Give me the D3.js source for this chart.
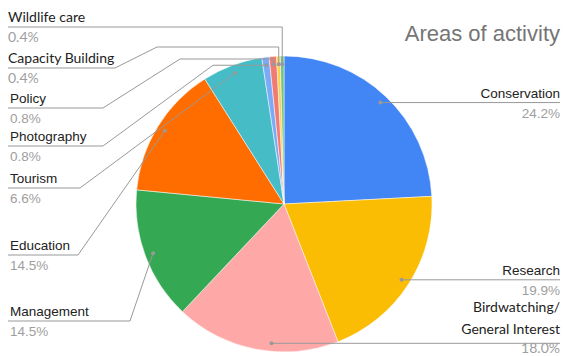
<!DOCTYPE html>
<html>
<head>
<meta charset="utf-8">
<script src="https://cdn.jsdelivr.net/npm/d3@7"></script>
<style>
  body { margin: 0; background: #fff; }
  .label { fill: #222; font-size: 13.5px; font-family: Arial, "Liberation Sans", sans-serif; }
  .pct { fill: #9e9e9e; font-size: 13.5px; font-family: Arial, "Liberation Sans", sans-serif; }
  .lato { font-family: Lato, sans-serif; font-size: 14px; }
  .leader { fill: none; stroke: #999; stroke-width: 1; }
</style>
</head>
<body>
<div id="chart"></div>
<script>
// slices, clockwise from 12 o'clock
var categories = ["Conservation", "Research", "Birdwatching/ General Interest", "Management",
                  "Education", "Tourism", "Photography", "Policy", "Capacity Building", "Wildlife care"];
var values = [24.2, 19.9, 18.0, 14.5, 14.5, 6.6, 0.8, 0.8, 0.4, 0.4];
var colors = ["#4285f4", "#fbbc04", "#ffa8a8", "#34a853", "#ff6d01",
              "#46bdc6", "#7baaf7", "#f07b72", "#fcd04f", "#71c287"];
var chartTitle = "Areas of activity";

// label placement (google style leader lines)
var labelLayout = [
    {side: "right"},
    {side: "right"},
    {side: "right", frac: 0.41, lato: true},
    {side: "left", uy: 321, xb: 130},
    {side: "left", uy: 255, xb: 78},
    {side: "left", uy: 188, xb: 80},
    {side: "left", uy: 146, xb: 103, xa: 213},
    {side: "left", uy: 108, xb: 103, xa: 180, hy: 59},
    {side: "left", uy: 68, xb: 115, xa: 157, hy: 47, lato: true},
    {side: "left", uy: 27, hy: 27, lato: true}
];

var width = 563, height = 356,
    cx = 284, cy = 204, radius = 148,
    leftX = 8, rightX = 560;

var svg = d3.select("#chart").append("svg")
    .attr("width", width)
    .attr("height", height);

svg.append("text")
    .attr("x", rightX)
    .attr("y", 41)
    .attr("text-anchor", "end")
    .style("font-family", "Arial, 'Liberation Sans', sans-serif")
    .style("font-size", "22px")
    .style("fill", "#757575")
    .text(chartTitle);

var pie = d3.pie().sort(null).value(function(d) { return d; });
var arcs = pie(values);
var arc = d3.arc().innerRadius(0).outerRadius(radius);

var g = svg.append("g")
    .attr("transform", "translate(" + cx + "," + cy + ")");

g.selectAll("path.slice")
    .data(arcs)
    .enter()
    .append("path")
    .attr("class", "slice")
    .attr("d", arc)
    .style("fill", function(d, i) { return colors[i]; })
    .style("stroke", "#fff")
    .style("stroke-width", 0.5);

// anchor point of each leader line, inside the slice
function anchor(d, i) {
    var f = labelLayout[i].frac === undefined ? 0.5 : labelLayout[i].frac;
    var a = d.startAngle + (d.endAngle - d.startAngle) * f;
    var r = radius * 0.945;
    return [cx + r * Math.sin(a), cy - r * Math.cos(a)];
}

var labels = svg.append("g");

arcs.forEach(function(d, i) {
    var lay = labelLayout[i],
        p = anchor(d, i),
        pts, uy, tx, anchorSide;

    if (lay.side === "right") {
        uy = p[1];
        pts = [p, [rightX, uy]];
        tx = rightX;
        anchorSide = "end";
    } else {
        uy = lay.uy;
        var hy = lay.hy === undefined ? p[1] : lay.hy,
            xa = lay.xa === undefined ? p[0] : lay.xa,
            xb = lay.xb === undefined ? xa : lay.xb;
        pts = [p, [p[0], hy], [xa, hy], [xb, uy], [leftX, uy]];
        tx = leftX + (lay.lato ? 0 : 2);
        anchorSide = "start";
    }

    labels.append("path")
        .attr("class", "leader")
        .attr("d", d3.line()(pts));

    labels.append("circle")
        .attr("cx", p[0])
        .attr("cy", p[1])
        .attr("r", 2)
        .style("fill", "#999");

    var lines = categories[i].split("/ ");
    if (lines.length > 1) { lines[0] = lines[0] + "/"; }
    var base = uy - (lines.length > 1 ? 9 : 5);
    lines.forEach(function(txt, k) {
        labels.append("text")
            .attr("class", "label" + (lay.lato ? " lato" : ""))
            .attr("x", tx)
            .attr("y", base - (lines.length - 1 - k) * 22)
            .attr("text-anchor", anchorSide)
            .text(txt);
    });

    // keep the bottom percent inside the frame
    labels.append("text")
        .attr("class", "pct" + (lay.lato ? " lato" : ""))
        .attr("x", tx)
        .attr("y", Math.min(uy + 15, height - 3))
        .attr("text-anchor", anchorSide)
        .text(values[i].toFixed(1) + "%");
});
</script>
</body>
</html>
